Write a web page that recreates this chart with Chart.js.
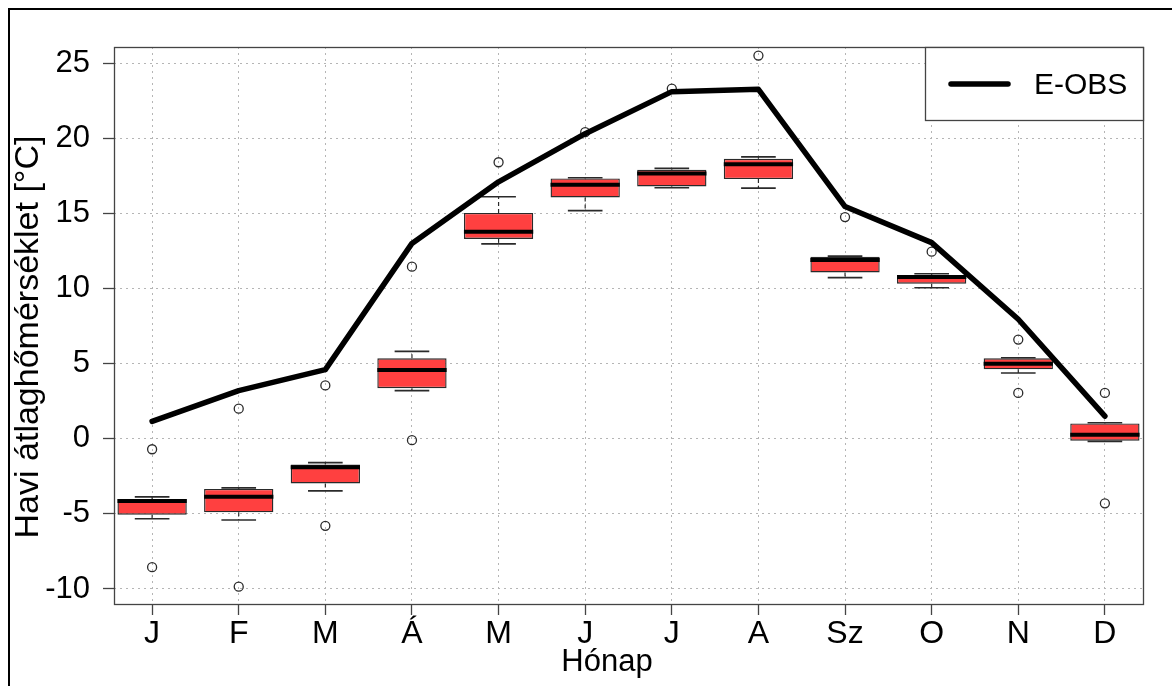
<!DOCTYPE html>
<html>
<head>
<meta charset="utf-8">
<script src="https://cdn.jsdelivr.net/npm/chart.js@4.4.1/dist/chart.umd.min.js"></script>
<style>
  html, body { margin: 0; padding: 0; background: #fff; }
  #wrap { position: relative; width: 1172px; height: 686px; overflow: hidden; }
  #wrap canvas { position: absolute; left: 0; top: 0; }
  #frame { position: absolute; left: 8px; top: 8px; width: 1200px; height: 720px;
           border: 2px solid #000; pointer-events: none; }
</style>
</head>
<body>
<div id="wrap">
  <canvas id="chart" width="1172" height="686"></canvas>
  <div id="frame"></div>
</div>
<script>
// Monthly mean temperature: model ensemble boxplots vs. E-OBS observations
const MONTHS = ["J", "F", "M", "Á", "M", "J", "J", "A", "Sz", "O", "N", "D"];

// E-OBS line
const EOBS = [1.15, 3.2, 4.6, 13.0, 17.1, 20.3, 23.1, 23.25, 15.45, 13.05, 7.95, 1.5];

// boxplot statistics per month
const WHISK_LO = [-5.33, -5.41, -3.47, 3.2, 12.97, 15.18, 16.7, 16.68, 10.72, 10.05, 4.37, -0.18];
const Q1 = [-5.06, -4.9, -2.98, 3.36, 13.3, 16.06, 16.79, 17.28, 11.07, 10.32, 4.62, -0.13];
const MEDIAN = [-4.15, -3.87, -1.9, 4.57, 13.77, 16.9, 17.65, 18.27, 11.89, 10.76, 4.99, 0.27];
const Q3 = [-4.02, -3.34, -1.72, 5.35, 15.03, 17.32, 17.9, 18.63, 12.11, 10.89, 5.35, 1.02];
const WHISK_HI = [-3.87, -3.27, -1.59, 5.81, 16.1, 17.37, 17.99, 18.76, 12.15, 10.98, 5.39, 1.06];
const OUTLIERS = [
  [-0.7, -8.55], [2.0, -9.85], [3.55, -5.8], [11.45, -0.1], [18.4], [20.4],
  [23.3], [25.5], [14.75], [12.45], [6.6, 3.05], [3.05, -4.3],
];

const Y_TICKS = [-10, -5, 0, 5, 10, 15, 20, 25];
const Y_TITLE = "Havi átlaghőmérséklet [°C]";
const X_TITLE = "Hónap";

const FONT = '"Liberation Sans", Arial, sans-serif';

const boxData = MONTHS.map((m, i) => ({ x: i + 1, y: [Q1[i], Q3[i]] }));
const lineData = EOBS.map((v, i) => ({ x: i + 1, y: v }));
const outlierData = [];
OUTLIERS.forEach((list, i) => list.forEach((v) => outlierData.push({ x: i + 1, y: v })));

function seg(ctx, x1, y1, x2, y2) {
  ctx.beginPath();
  ctx.moveTo(x1, y1);
  ctx.lineTo(x2, y2);
  ctx.stroke();
}

// whiskers, caps and medians on top of the box bars + frame, legend, titles
const boxPlot = {
  id: "boxPlot",
  afterDatasetDraw(chart, args) {
    if (args.index !== 0) return;
    const { ctx } = chart;
    const xs = chart.scales.x, ys = chart.scales.y;
    const meta = chart.getDatasetMeta(0);
    ctx.save();
    meta.data.forEach((bar, i) => {
      const cx = xs.getPixelForValue(i + 1);
      const half = bar.width / 2;
      const yHi = ys.getPixelForValue(WHISK_HI[i]);
      const yLo = ys.getPixelForValue(WHISK_LO[i]);
      ctx.strokeStyle = "#2a2a2a";
      ctx.lineWidth = 1.2;
      ctx.setLineDash([4, 3]);
      seg(ctx, cx, ys.getPixelForValue(Q3[i]), cx, yHi);
      seg(ctx, cx, ys.getPixelForValue(Q1[i]), cx, yLo);
      ctx.setLineDash([]);
      ctx.lineWidth = 1.6;
      seg(ctx, cx - half / 2, yHi, cx + half / 2, yHi);
      seg(ctx, cx - half / 2, yLo, cx + half / 2, yLo);
      ctx.strokeStyle = "#000";
      ctx.lineWidth = 4;
      const ym = ys.getPixelForValue(MEDIAN[i]);
      seg(ctx, cx - half, ym, cx + half, ym);
    });
    ctx.restore();
  },
  afterDraw(chart) {
    const { ctx, chartArea: a } = chart;
    ctx.save();
    // plot frame
    ctx.strokeStyle = "#444";
    ctx.lineWidth = 1.3;
    ctx.strokeRect(Math.round(a.left) + 0.5, Math.round(a.top) + 0.5,
      Math.round(a.right - a.left), Math.round(a.bottom - a.top));

    // legend box, top right
    const ds = chart.data.datasets[1];
    const lw = 218, lh = 73;
    const lx = Math.round(a.right - lw), ly = Math.round(a.top);
    ctx.fillStyle = "#fff";
    ctx.fillRect(lx, ly, lw, lh);
    ctx.strokeRect(lx + 0.5, ly + 0.5, lw, lh);
    ctx.strokeStyle = ds.borderColor;
    ctx.lineWidth = ds.borderWidth;
    ctx.lineCap = "round";
    seg(ctx, lx + 26, ly + 37, lx + 83, ly + 37);
    ctx.fillStyle = "#000";
    ctx.font = "30px " + FONT;
    ctx.textAlign = "left";
    ctx.textBaseline = "alphabetic";
    ctx.fillText(ds.label, lx + 109, ly + 47);

    // axis titles
    ctx.font = "31px " + FONT;
    ctx.textAlign = "center";
    ctx.fillText(X_TITLE, 607, 671);
    ctx.translate(38, 337);
    ctx.rotate(-Math.PI / 2);
    ctx.font = "34px " + FONT;
    ctx.fillText(Y_TITLE, 0, 0);
    ctx.restore();
  },
};

new Chart(document.getElementById("chart").getContext("2d"), {
  type: "bar",
  data: {
    datasets: [
      {
        type: "bar",
        label: "box",
        data: boxData,
        backgroundColor: "#FF4040",
        borderColor: "#2a2a2a",
        borderWidth: 1.4,
        borderSkipped: false,
        barPercentage: 0.8,
        categoryPercentage: 1,
        order: 3,
      },
      {
        type: "line",
        label: "E-OBS",
        data: lineData,
        borderColor: "#000",
        borderWidth: 5.5,
        pointRadius: 0,
        tension: 0,
        borderJoinStyle: "round",
        borderCapStyle: "round",
        order: 1,
      },
      {
        type: "scatter",
        label: "outliers",
        data: outlierData,
        pointRadius: 4.5,
        pointBackgroundColor: "rgba(0,0,0,0)",
        pointBorderColor: "#2a2a2a",
        pointBorderWidth: 1.3,
        order: 2,
      },
    ],
  },
  options: {
    responsive: false,
    animation: false,
    layout: { padding: { top: 47, right: 29, left: 0, bottom: 0 } },
    plugins: { legend: { display: false }, tooltip: { enabled: false } },
    scales: {
      x: {
        type: "linear",
        min: 0.56,
        max: 12.44,
        offset: false,
        afterFit: (s) => { s.height = 82; },
        ticks: {
          stepSize: 1,
          includeBounds: false,
          autoSkip: false,
          maxRotation: 0,
          padding: 0,
          color: "#000",
          font: { family: FONT, size: 32 },
          callback: (v) => MONTHS[v - 1],
        },
        grid: { offset: false, color: "#b5b5b5", lineWidth: 1, tickColor: "#444",
                tickLength: 11, tickWidth: 1.3, tickBorderDash: [] },
        border: { display: false, dash: [2, 4] },
      },
      y: {
        min: -11,
        max: 26.07,
        afterFit: (s) => { s.width = 114; },
        afterBuildTicks: (s) => { s.ticks = Y_TICKS.map((v) => ({ value: v })); },
        ticks: {
          padding: 13,
          color: "#000",
          font: { family: FONT, size: 31 },
        },
        grid: { color: "#b5b5b5", lineWidth: 1, tickColor: "#444",
                tickLength: 11, tickWidth: 1.3, tickBorderDash: [] },
        border: { display: false, dash: [2, 4] },
      },
    },
  },
  plugins: [boxPlot],
});
</script>
</body>
</html>
